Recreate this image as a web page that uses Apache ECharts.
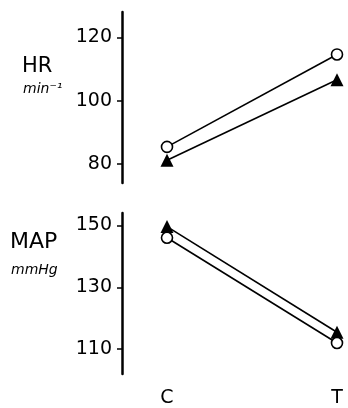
<!DOCTYPE html>
<html>
<head>
<meta charset="utf-8">
<script src="https://cdn.jsdelivr.net/npm/echarts@6/dist/echarts.min.js"></script>
<style>
html,body{margin:0;padding:0;background:#fff;}
#c{width:348px;height:408px;}
</style>
</head>
<body>
<div id="c"></div>
<script>
const categories = ['C', 'T'];
const hrCircle = [85.4, 114.6];
const hrTriangle = [81.2, 106.6];
const mapTriangle = [149.6, 115.5];
const mapCircle = [146.0, 112.0];
const hrTicks = [80, 100, 120];
const mapTicks = [110, 130, 150];

const FONT = 'DejaVu Sans';
const chart = echarts.init(document.getElementById('c'), null, {renderer: 'canvas'});

function yAx(idx, min, max, ticks) {
  return {
    type: 'value', gridIndex: idx, min: min, max: max, offset: 45,
    splitLine: {show: false},
    axisLine: {show: true, lineStyle: {color: '#000', width: 2.5}},
    axisTick: {show: true, length: 5, customValues: ticks, lineStyle: {color: '#000', width: 1.5}},
    axisLabel: {customValues: ticks, color: '#000', fontFamily: FONT, fontSize: 19, margin: 10}
  };
}
function xAx(idx, showLabels) {
  return {
    type: 'category', gridIndex: idx, data: categories, boundaryGap: false,
    axisLine: {show: false}, axisTick: {show: false}, splitLine: {show: false},
    axisLabel: {show: showLabels, color: '#000', fontFamily: FONT, fontSize: 19, margin: 15}
  };
}
function ser(idx, data, sym) {
  const circle = sym === 'circle';
  return {
    type: 'line', xAxisIndex: idx, yAxisIndex: idx, data: data,
    symbol: sym, symbolSize: circle ? 11 : 13, showAllSymbol: true,
    lineStyle: {color: '#000', width: 1.6},
    itemStyle: circle ? {color: '#fff', borderColor: '#000', borderWidth: 1.6}
                      : {color: '#000', borderColor: '#000', borderWidth: 0},
    z: circle ? 3 : 2, animation: false
  };
}

chart.setOption({
  animation: false,
  grid: [
    {left: 167, right: 11, top: 12, height: 171},
    {left: 167, right: 11, top: 213, height: 162}
  ],
  xAxis: [xAx(0, false), xAx(1, true)],
  yAxis: [yAx(0, 74, 128, hrTicks), yAx(1, 102, 154, mapTicks)],
  series: [
    ser(0, hrTriangle, 'triangle'),
    ser(0, hrCircle, 'circle'),
    ser(1, mapCircle, 'circle'),
    ser(1, mapTriangle, 'triangle')
  ],
  graphic: [
    {type: 'text', left: 22, top: 56, style: {text: 'HR', font: '21px "DejaVu Sans"', fill: '#000'}},
    {type: 'text', left: 23, top: 82, style: {text: 'min\u207B\u00B9', font: 'italic 14px "DejaVu Sans"', fill: '#000'}},
    {type: 'text', left: 10, top: 231, style: {text: 'MAP', font: '22px "DejaVu Sans"', fill: '#000'}},
    {type: 'text', left: 11, top: 263, style: {text: 'mmHg', font: 'italic 14px "DejaVu Sans"', fill: '#000'}}
  ]
});
</script>
</body>
</html>
